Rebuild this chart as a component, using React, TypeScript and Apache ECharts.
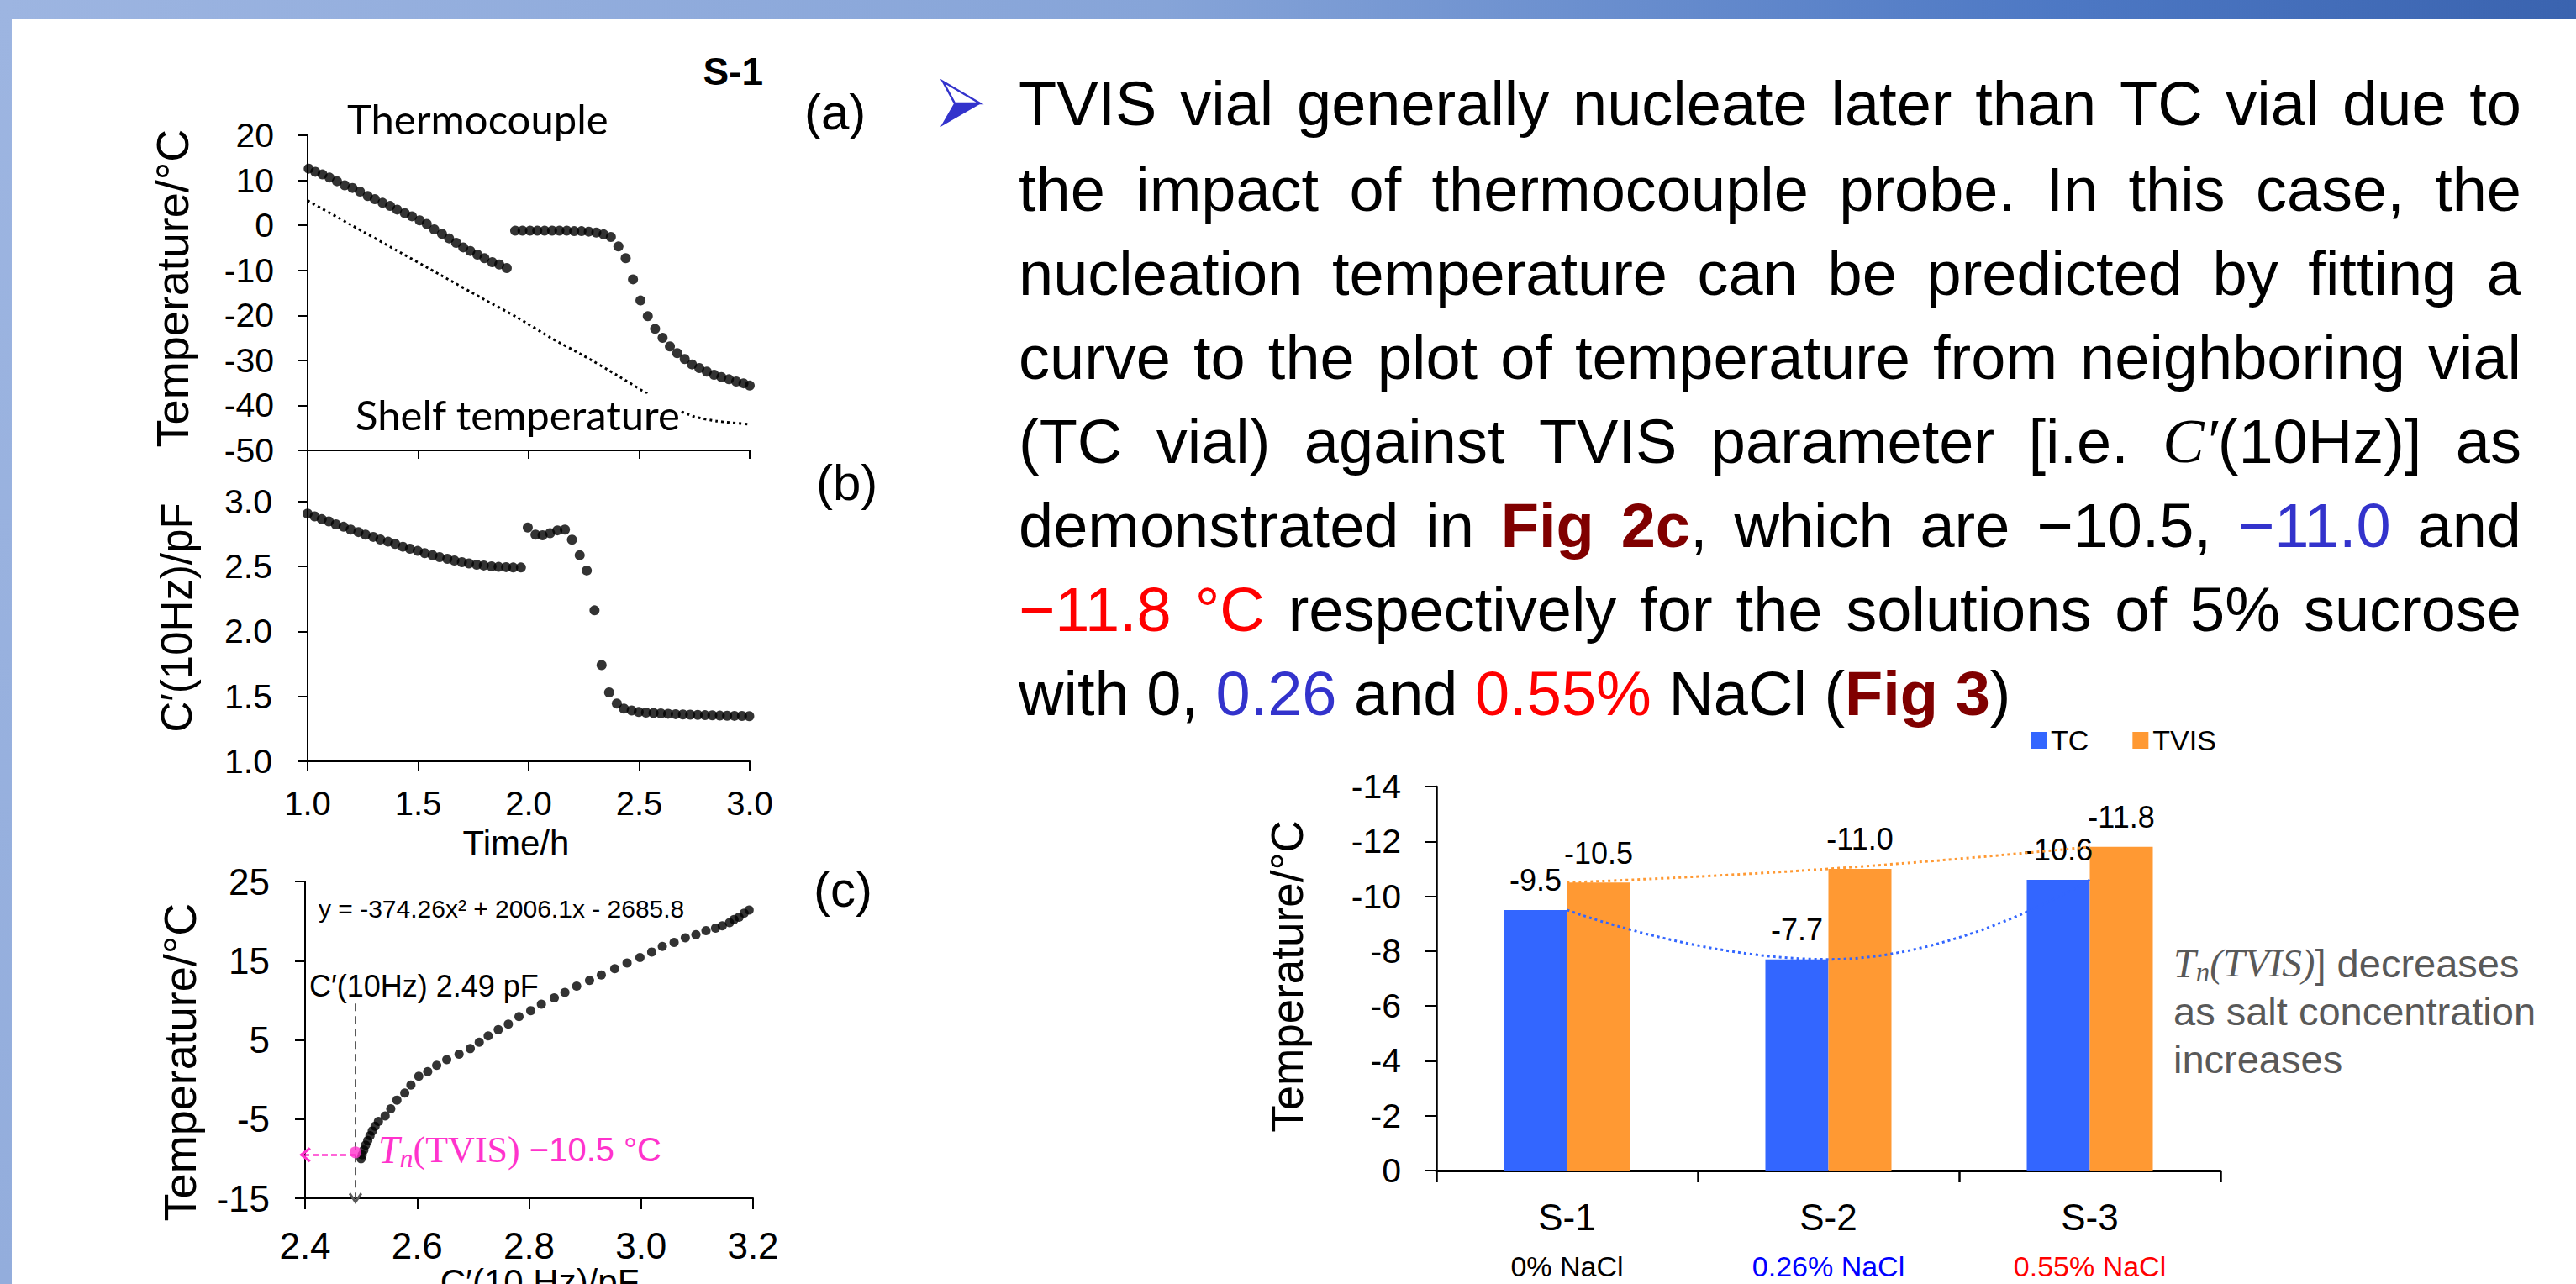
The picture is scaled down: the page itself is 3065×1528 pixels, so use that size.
import React, { useEffect, useRef } from 'react';
import * as echarts from 'echarts';

const W = 3065;
const H = 1528;

const SANS = '"Liberation Sans", Arial, Helvetica, sans-serif';
const SERIF = '"Liberation Serif", "DejaVu Serif", "Times New Roman", serif';
const CALIBRI = 'Lato, "Open Sans", sans-serif';

// ---------- Panel (a): thermocouple & shelf temperature vs time ----------
const tcTime1 = [1.005, 1.035, 1.067, 1.099, 1.133, 1.168, 1.203, 1.237, 1.272, 1.304, 1.339, 1.373, 1.405, 1.44, 1.472, 1.507, 1.539, 1.573, 1.608, 1.64, 1.672, 1.704, 1.736, 1.768, 1.8, 1.835, 1.867, 1.901];
const tcTemp1 = [12.6, 11.9, 11.3, 10.6, 9.8, 8.9, 8.3, 7.5, 6.5, 5.8, 5.0, 4.3, 3.5, 2.7, 2.0, 1.1, 0.3, -0.9, -1.9, -2.9, -3.9, -4.9, -5.7, -6.5, -7.3, -8.2, -8.7, -9.5];
const tcTime2 = [1.939, 1.972, 2.006, 2.039, 2.072, 2.106, 2.139, 2.172, 2.206, 2.239, 2.272, 2.306, 2.339, 2.372, 2.406, 2.439, 2.472, 2.506, 2.539, 2.572, 2.606, 2.639, 2.672, 2.706, 2.739, 2.772, 2.806, 2.839, 2.872, 2.906, 2.939, 2.972, 3.0];
const tcTemp2 = [-1.2, -1.2, -1.2, -1.2, -1.2, -1.2, -1.2, -1.2, -1.3, -1.3, -1.4, -1.6, -2.0, -2.6, -4.7, -7.3, -12.0, -16.7, -20.2, -23.0, -25.0, -26.9, -28.4, -29.7, -30.9, -31.7, -32.5, -33.2, -33.7, -34.2, -34.7, -35.1, -35.6];
const shelfTime = [1.0, 1.2, 1.4, 1.6, 1.8, 1.95, 2.1, 2.25, 2.4, 2.55, 2.65, 2.75, 2.85, 3.0];
const shelfTemp = [5.5, 0.0, -5.5, -11.0, -16.5, -20.5, -25.0, -29.0, -33.3, -37.8, -40.5, -42.5, -43.5, -44.2];
const tempTicksA = [-50, -40, -30, -20, -10, 0, 10, 20];
const timeTicks = [1.0, 1.5, 2.0, 2.5, 3.0];

// ---------- Panel (b): TVIS C'(10Hz) vs time ----------
const capTime1 = [1.0, 1.032, 1.064, 1.096, 1.128, 1.163, 1.195, 1.23, 1.262, 1.297, 1.329, 1.364, 1.396, 1.431, 1.463, 1.498, 1.53, 1.565, 1.597, 1.632, 1.664, 1.698, 1.73, 1.765, 1.797, 1.832, 1.864, 1.898, 1.93, 1.965];
const capVal1 = [2.907, 2.886, 2.864, 2.847, 2.825, 2.806, 2.784, 2.765, 2.745, 2.728, 2.708, 2.691, 2.674, 2.652, 2.637, 2.62, 2.603, 2.587, 2.572, 2.559, 2.546, 2.533, 2.523, 2.514, 2.508, 2.501, 2.497, 2.495, 2.492, 2.492];
const capTime2 = [1.996, 2.031, 2.063, 2.097, 2.13, 2.164, 2.196, 2.231, 2.263, 2.298, 2.33, 2.364, 2.399, 2.431, 2.466, 2.498, 2.531, 2.565, 2.598, 2.631, 2.665, 2.698, 2.731, 2.765, 2.798, 2.831, 2.865, 2.898, 2.931, 2.965, 2.998];
const capVal2 = [2.80, 2.745, 2.74, 2.756, 2.778, 2.784, 2.706, 2.587, 2.469, 2.162, 1.741, 1.531, 1.445, 1.406, 1.391, 1.38, 1.375, 1.372, 1.369, 1.366, 1.363, 1.361, 1.359, 1.357, 1.355, 1.354, 1.352, 1.351, 1.35, 1.349, 1.348];
const capTicks = [1.0, 1.5, 2.0, 2.5, 3.0];

// ---------- Panel (c): temperature vs C'(10Hz) ----------
const fitCap = [2.5, 2.502, 2.505, 2.508, 2.512, 2.516, 2.52, 2.525, 2.531, 2.543, 2.553, 2.564, 2.578, 2.589, 2.603, 2.619, 2.635, 2.653, 2.675, 2.695, 2.711, 2.727, 2.745, 2.763, 2.782, 2.803, 2.822, 2.845, 2.864, 2.885, 2.908, 2.929, 2.953, 2.975, 2.998, 3.019, 3.038, 3.059, 3.079, 3.098, 3.116, 3.133, 3.145, 3.158, 3.166, 3.175, 3.184, 3.193];
const fitTemp = [-10.0, -9.5, -8.9, -8.3, -7.7, -7.1, -6.5, -5.9, -5.3, -4.6, -3.7, -2.6, -1.7, -0.7, 0.4, 1.0, 1.8, 2.5, 3.2, 3.9, 4.7, 5.5, 6.3, 7.0, 7.95, 8.7, 9.5, 10.3, 11.0, 11.8, 12.5, 13.2, 14.0, 14.7, 15.4, 16.1, 16.8, 17.3, 17.9, 18.3, 18.8, 19.1, 19.4, 19.8, 20.2, 20.5, 21.0, 21.4];
const tnCap = 2.49;
const tnMarkTemp = -9.2;
const tnArrowTemp = -9.5;
const tnGuideTop = 9.6;
const capAxisMin = 2.4;
const tempAxisMinC = -15;
const tempTicksC = [-15, -5, 5, 15, 25];
const capTicksC = [2.4, 2.6, 2.8, 3.0, 3.2];

// ---------- Bar chart (Fig 3) ----------
const samples = ['S-1', 'S-2', 'S-3'];
const naclLabels = ['0% NaCl', '0.26% NaCl', '0.55% NaCl'];
const tcNucleation = [-9.5, -7.7, -10.6];
const tvisNucleation = [-10.5, -11.0, -11.8];

// ---------- Paragraph ----------
const paragraphLines: [string, string][][] = [
  [['TVIS vial generally nucleate later than TC vial due to', 'n']],
  [['the impact of thermocouple probe. In this case, the', 'n']],
  [['nucleation temperature can be predicted by fitting a', 'n']],
  [['curve to the plot of temperature from neighboring vial', 'n']],
  [['(TC vial) against TVIS parameter [i.e. ', 'n'], ['C′', 'i'], ['(10Hz)] as', 'n']],
  [['demonstrated in ', 'n'], ['Fig 2c', 'b'], [', which are −10.5, ', 'n'], ['−11.0', 'blue'], [' and', 'n']],
  [['−11.8 °C', 'red'], [' respectively for the solutions of 5% sucrose', 'n']],
  [['with 0, ', 'n'], ['0.26', 'blue'], [' and ', 'n'], ['0.55%', 'red'], [' NaCl (', 'n'], ['Fig 3', 'b'], [')', 'n']],
];

type TS = { fontSize: number; fontFamily: string; fontStyle?: string; fontWeight?: string; fill: string };

const PARA_STYLES: Record<string, TS> = {
  n: { fontSize: 74, fontFamily: SANS, fill: '#000000' },
  i: { fontSize: 74, fontFamily: SERIF, fontStyle: 'italic', fill: '#000000' },
  b: { fontSize: 74, fontFamily: SANS, fontWeight: 'bold', fill: '#800000' },
  blue: { fontSize: 74, fontFamily: SANS, fill: '#3333CC' },
  red: { fontSize: 74, fontFamily: SANS, fill: '#FF0000' },
};

const zip = (xs: number[], ys: number[]) => xs.map((x, i) => [x, ys[i]]);

let measureCtx: CanvasRenderingContext2D | null = null;
function measure(text: string, s: TS): number {
  if (!measureCtx) measureCtx = document.createElement('canvas').getContext('2d');
  const ctx = measureCtx!;
  ctx.font = `${s.fontStyle || 'normal'} ${s.fontWeight || 'normal'} ${s.fontSize}px ${s.fontFamily}`;
  return ctx.measureText(text).width;
}

function textEl(text: string, x: number, y: number, s: TS, extra: any = {}) {
  const { align, styleExtra, ...rest } = extra;
  return {
    type: 'text',
    x,
    y,
    silent: true,
    ...rest,
    style: {
      text,
      fontSize: s.fontSize,
      fontFamily: s.fontFamily,
      fontStyle: s.fontStyle || 'normal',
      fontWeight: s.fontWeight || 'normal',
      fill: s.fill,
      align: align || 'left',
      verticalAlign: 'middle',
      ...(styleExtra || {}),
    },
  };
}

function toWords(segs: [string, string][]) {
  const words: [string, string][][] = [];
  let cur: [string, string][] = [];
  for (const [text, st] of segs) {
    const parts = text.split(' ');
    parts.forEach((p, i) => {
      if (i > 0) {
        if (cur.length) words.push(cur);
        cur = [];
      }
      if (p) cur.push([p, st]);
    });
  }
  if (cur.length) words.push(cur);
  return words;
}

function buildParagraph() {
  const els: any[] = [];
  const left = 1212;
  const right = 3000;
  const centers = [123, 225, 325, 425, 525, 625, 725, 825];
  paragraphLines.forEach((segs, li) => {
    const words = toWords(segs);
    const widths = words.map((w) => w.reduce((acc, [t, st]) => acc + measure(t, PARA_STYLES[st]), 0));
    const total = widths.reduce((a, b) => a + b, 0);
    const justify = li < paragraphLines.length - 1;
    const gap = justify && words.length > 1 ? (right - left - total) / (words.length - 1) : measure(' ', PARA_STYLES.n);
    let x = left;
    words.forEach((w, wi) => {
      let px = x;
      w.forEach(([t, st]) => {
        els.push(textEl(t, px, centers[li], PARA_STYLES[st]));
        px += measure(t, PARA_STYLES[st]);
      });
      x += widths[wi] + gap;
    });
  });
  return els;
}

type Piece = { t: string; s: TS; dy?: number };
function buildRun(pieces: Piece[], x0: number, y: number) {
  const els: any[] = [];
  let x = x0;
  pieces.forEach((p) => {
    els.push(textEl(p.t, x, y + (p.dy || 0), p.s));
    x += measure(p.t, p.s);
  });
  return els;
}

function buildOption() {
  const black = '#000000';
  const axisLine = { show: true, onZero: false, lineStyle: { color: black, width: 2 } };
  const tick = (len: number, values?: number[]) => ({
    show: true,
    length: len,
    lineStyle: { color: black, width: 2 },
    ...(values ? { customValues: values } : {}),
  });
  const lbl = (size: number, margin: number, values?: number[], fmt?: (v: number) => string) => ({
    show: true,
    fontSize: size,
    margin,
    color: black,
    fontFamily: SANS,
    ...(values ? { customValues: values } : {}),
    ...(fmt ? { formatter: fmt } : {}),
  });
  const fix1 = (v: number) => Number(v).toFixed(1);

  const MAG = '#FF33CC';
  const GRAY = '#595959';

  const graphics: any[] = [
    // slide decoration
    {
      type: 'rect', silent: true, z: -10,
      shape: { x: 0, y: 0, width: W, height: 23 },
      style: {
        fill: new echarts.graphic.LinearGradient(0, 0, 1, 0, [
          { offset: 0, color: '#9DB5E1' },
          { offset: 0.45, color: '#86A4D8' },
          { offset: 0.8, color: '#4D78C4' },
          { offset: 1, color: '#3A63AF' },
        ]),
      },
    },
    {
      type: 'rect', silent: true, z: -10,
      shape: { x: 0, y: 0, width: 14, height: H },
      style: {
        fill: new echarts.graphic.LinearGradient(0, 0, 0, 1, [
          { offset: 0, color: '#9DB5E1' },
          { offset: 1, color: '#93ADDC' },
        ]),
      },
    },
    // bullet arrowhead
    {
      type: 'polygon', silent: true,
      shape: { points: [[1122, 97], [1166, 123], [1136, 123]] },
      style: { fill: '#FFFFFF', stroke: '#3333CC', lineWidth: 2.5 },
    },
    {
      type: 'polygon', silent: true,
      shape: { points: [[1136, 123], [1166, 123], [1121, 149]] },
      style: { fill: '#3333CC', stroke: '#3333CC', lineWidth: 1.5 },
    },
    ...buildParagraph(),
    // panel labels
    textEl('S-1', 908, 85, { fontSize: 46, fontFamily: SANS, fontWeight: 'bold', fill: black }, { align: 'right' }),
    textEl('(a)', 957, 133, { fontSize: 60, fontFamily: SANS, fill: black }),
    textEl('(b)', 971, 574, { fontSize: 60, fontFamily: SANS, fill: black }),
    textEl('(c)', 968, 1058, { fontSize: 60, fontFamily: SANS, fill: black }),
    textEl('Thermocouple', 413, 141, { fontSize: 49, fontFamily: CALIBRI, fill: black }),
    textEl('Shelf temperature', 423, 493, { fontSize: 49, fontFamily: CALIBRI, fill: black }, { z: 50, styleExtra: { backgroundColor: '#FFFFFF' } }),
    // axis titles
    textEl('Temperature/°C', 205, 343, { fontSize: 54, fontFamily: SANS, fill: black }, { rotation: Math.PI / 2, align: 'center' }),
    textEl('C′(10Hz)/pF', 210, 735, { fontSize: 51, fontFamily: SANS, fill: black }, { rotation: Math.PI / 2, align: 'center' }),
    textEl('Time/h', 614, 1003, { fontSize: 42, fontFamily: SANS, fill: black }, { align: 'center' }),
    textEl('Temperature/°C', 214, 1264, { fontSize: 54, fontFamily: SANS, fill: black }, { rotation: Math.PI / 2, align: 'center' }),
    textEl('C′(10 Hz)/pF', 642, 1525, { fontSize: 42, fontFamily: SANS, fill: black }, { align: 'center' }),
    textEl('Temperature/°C', 1531, 1162, { fontSize: 53, fontFamily: SANS, fill: black }, { rotation: Math.PI / 2, align: 'center' }),
    // panel (c) annotations
    textEl('y = -374.26x² + 2006.1x - 2685.8', 379, 1081, { fontSize: 30, fontFamily: SANS, fill: black }),
    textEl('C′(10Hz) 2.49 pF', 368, 1173, { fontSize: 36, fontFamily: SANS, fill: black }),
    ...buildRun([
      { t: 'T', s: { fontSize: 46, fontFamily: SERIF, fontStyle: 'italic', fill: MAG } },
      { t: 'n', s: { fontSize: 32, fontFamily: SERIF, fontStyle: 'italic', fill: MAG }, dy: 10 },
      { t: '(TVIS)', s: { fontSize: 44, fontFamily: SERIF, fill: MAG } },
      { t: ' −10.5 °C', s: { fontSize: 40, fontFamily: SANS, fill: MAG } },
    ], 450, 1368),
    // bar chart side note
    ...buildRun([
      { t: 'T', s: { fontSize: 48, fontFamily: SERIF, fontStyle: 'italic', fill: GRAY } },
      { t: 'n', s: { fontSize: 33, fontFamily: SERIF, fontStyle: 'italic', fill: GRAY }, dy: 11 },
      { t: '(TVIS)', s: { fontSize: 47, fontFamily: SERIF, fontStyle: 'italic', fill: GRAY } },
      { t: ']', s: { fontSize: 47, fontFamily: SANS, fill: GRAY } },
      { t: ' decreases', s: { fontSize: 47, fontFamily: SANS, fill: GRAY } },
    ], 2586, 1146),
    textEl('as salt concentration', 2586, 1203, { fontSize: 47, fontFamily: SANS, fill: GRAY }),
    textEl('increases', 2586, 1260, { fontSize: 47, fontFamily: SANS, fill: GRAY }),
  ];

  const chevronUp = 'path://M0,10 L10,0 L20,10 L17.5,12 L10,4.5 L2.5,12 Z';

  return {
    animation: false,
    backgroundColor: '#FFFFFF',
    textStyle: { fontFamily: SANS },
    grid: [
      { left: 366, top: 161, width: 526, height: 375, outerBoundsMode: 'none', containLabel: false },
      { left: 366, top: 535, width: 526, height: 371, outerBoundsMode: 'none', containLabel: false },
      { left: 363, top: 1049, width: 533, height: 377, outerBoundsMode: 'none', containLabel: false },
      { left: 1709, top: 936, width: 933, height: 457, outerBoundsMode: 'none', containLabel: false },
    ],
    legend: {
      data: ['TC', 'TVIS'],
      left: 2416,
      top: 864,
      padding: 0,
      itemWidth: 19,
      itemHeight: 20,
      itemGap: 52,
      icon: 'rect',
      textStyle: { fontSize: 34, color: black, fontFamily: SANS },
    },
    xAxis: [
      {
        gridIndex: 0, type: 'value', min: 1, max: 3,
        axisLine, axisTick: tick(10, timeTicks), axisLabel: { show: false }, splitLine: { show: false },
      },
      {
        gridIndex: 1, type: 'value', min: 1, max: 3,
        axisLine, axisTick: tick(12, timeTicks), axisLabel: lbl(40, 30, timeTicks, fix1), splitLine: { show: false },
      },
      {
        gridIndex: 2, type: 'value', min: capAxisMin, max: 3.2,
        axisLine, axisTick: tick(13, capTicksC), axisLabel: lbl(44, 34, capTicksC, fix1), splitLine: { show: false },
      },
      {
        gridIndex: 3, type: 'category', data: samples,
        axisLine: { show: true, lineStyle: { color: black, width: 3 } },
        axisTick: { show: true, alignWithLabel: false, length: 14, lineStyle: { color: black, width: 2.5 } },
        axisLabel: {
          show: true,
          interval: 0,
          margin: 14,
          formatter: (v: string, i: number) => `{s|${v}}\n{n${i}|${naclLabels[i]}}`,
          rich: {
            s: { fontSize: 44, lineHeight: 82, color: black, fontFamily: SANS },
            n0: { fontSize: 34, lineHeight: 36, color: black, fontFamily: SANS },
            n1: { fontSize: 34, lineHeight: 36, color: '#0000FF', fontFamily: SANS },
            n2: { fontSize: 34, lineHeight: 36, color: '#FF0000', fontFamily: SANS },
          },
        },
        splitLine: { show: false },
      },
    ],
    yAxis: [
      {
        gridIndex: 0, type: 'value', min: -50, max: 20,
        axisLine, axisTick: tick(12, tempTicksA), axisLabel: lbl(41, 40, tempTicksA), splitLine: { show: false },
      },
      {
        gridIndex: 1, type: 'value', min: 1, max: 3.4,
        axisLine, axisTick: tick(12, capTicks), axisLabel: lbl(41, 42, capTicks, fix1), splitLine: { show: false },
      },
      {
        gridIndex: 2, type: 'value', min: tempAxisMinC, max: 25,
        axisLine, axisTick: tick(12, tempTicksC), axisLabel: lbl(44, 42, tempTicksC), splitLine: { show: false },
      },
      {
        gridIndex: 3, type: 'value', min: -14, max: 0, interval: 2, inverse: true,
        axisLine: { show: true, onZero: false, lineStyle: { color: black, width: 2.5 } },
        axisTick: { show: true, length: 13, lineStyle: { color: black, width: 2 } },
        axisLabel: lbl(41, 42),
        splitLine: { show: false },
      },
    ],
    series: [
      {
        name: 'Thermocouple', type: 'scatter', xAxisIndex: 0, yAxisIndex: 0,
        data: zip(tcTime1, tcTemp1).concat(zip(tcTime2, tcTemp2)),
        symbolSize: 12, itemStyle: { color: black },
      },
      {
        name: 'Shelf temperature', type: 'line', xAxisIndex: 0, yAxisIndex: 0,
        data: zip(shelfTime, shelfTemp), showSymbol: false, symbol: 'none', smooth: 0.2,
        lineStyle: { color: black, width: 3, type: [3, 4] },
      },
      {
        name: "C'(10Hz)", type: 'scatter', xAxisIndex: 1, yAxisIndex: 1,
        data: zip(capTime1, capVal1).concat(zip(capTime2, capVal2)),
        symbolSize: 12, itemStyle: { color: black },
      },
      {
        name: 'T vs C', type: 'scatter', xAxisIndex: 2, yAxisIndex: 2,
        data: zip(fitCap, fitTemp),
        symbolSize: 11, itemStyle: { color: black },
      },
      {
        name: 'Tn(TVIS)', type: 'scatter', xAxisIndex: 2, yAxisIndex: 2, z: 10,
        data: [[tnCap, tnMarkTemp]],
        symbolSize: 14, itemStyle: { color: MAG },
        markLine: {
          silent: true,
          animation: false,
          label: { show: false },
          emphasis: { disabled: true },
          data: [
            [
              { coord: [tnCap, tnGuideTop], symbol: 'none', lineStyle: { color: GRAY, width: 2, type: [9, 6] } },
              { coord: [tnCap, tempAxisMinC], symbol: chevronUp, symbolSize: [16, 14] },
            ],
            [
              { coord: [tnCap, tnArrowTemp], symbol: 'none', lineStyle: { color: MAG, width: 2.5, type: [7, 4] } },
              { coord: [capAxisMin, tnArrowTemp], symbol: chevronUp, symbolSize: [18, 14] },
            ],
          ],
        },
      },
      {
        name: 'TC', type: 'bar', xAxisIndex: 3, yAxisIndex: 3,
        data: tcNucleation, barWidth: 75, barGap: '0%',
        itemStyle: { color: '#3366FF' },
        label: { show: true, position: 'top', distance: 17, fontSize: 36, color: black, fontFamily: SANS, formatter: (p: any) => Number(p.value).toFixed(1) },
      },
      {
        name: 'TVIS', type: 'bar', xAxisIndex: 3, yAxisIndex: 3,
        data: tvisNucleation, barWidth: 75, barGap: '0%',
        itemStyle: { color: '#FF9933' },
        label: { show: true, position: 'top', distance: 17, fontSize: 36, color: black, fontFamily: SANS, formatter: (p: any) => Number(p.value).toFixed(1) },
      },
      {
        name: 'TC trend', type: 'line', xAxisIndex: 3, yAxisIndex: 3, z: 5,
        data: tcNucleation, smooth: 0.5, symbol: 'none', showSymbol: false,
        lineStyle: { color: '#3366FF', width: 3, type: [3, 4] },
      },
      {
        name: 'TVIS trend', type: 'line', xAxisIndex: 3, yAxisIndex: 3, z: 5,
        data: tvisNucleation, smooth: 0.5, symbol: 'none', showSymbol: false,
        lineStyle: { color: '#FF9933', width: 3, type: [3, 4] },
      },
    ],
    graphic: graphics,
  };
}

export default function App() {
  const ref = useRef<HTMLDivElement>(null);
  useEffect(() => {
    const chart = echarts.init(ref.current!, null, { renderer: 'svg' });
    chart.setOption(buildOption() as any);
    return () => chart.dispose();
  }, []);
  return <div ref={ref} style={{ position: 'absolute', left: 0, top: 0, width: W, height: H }} />;
}
